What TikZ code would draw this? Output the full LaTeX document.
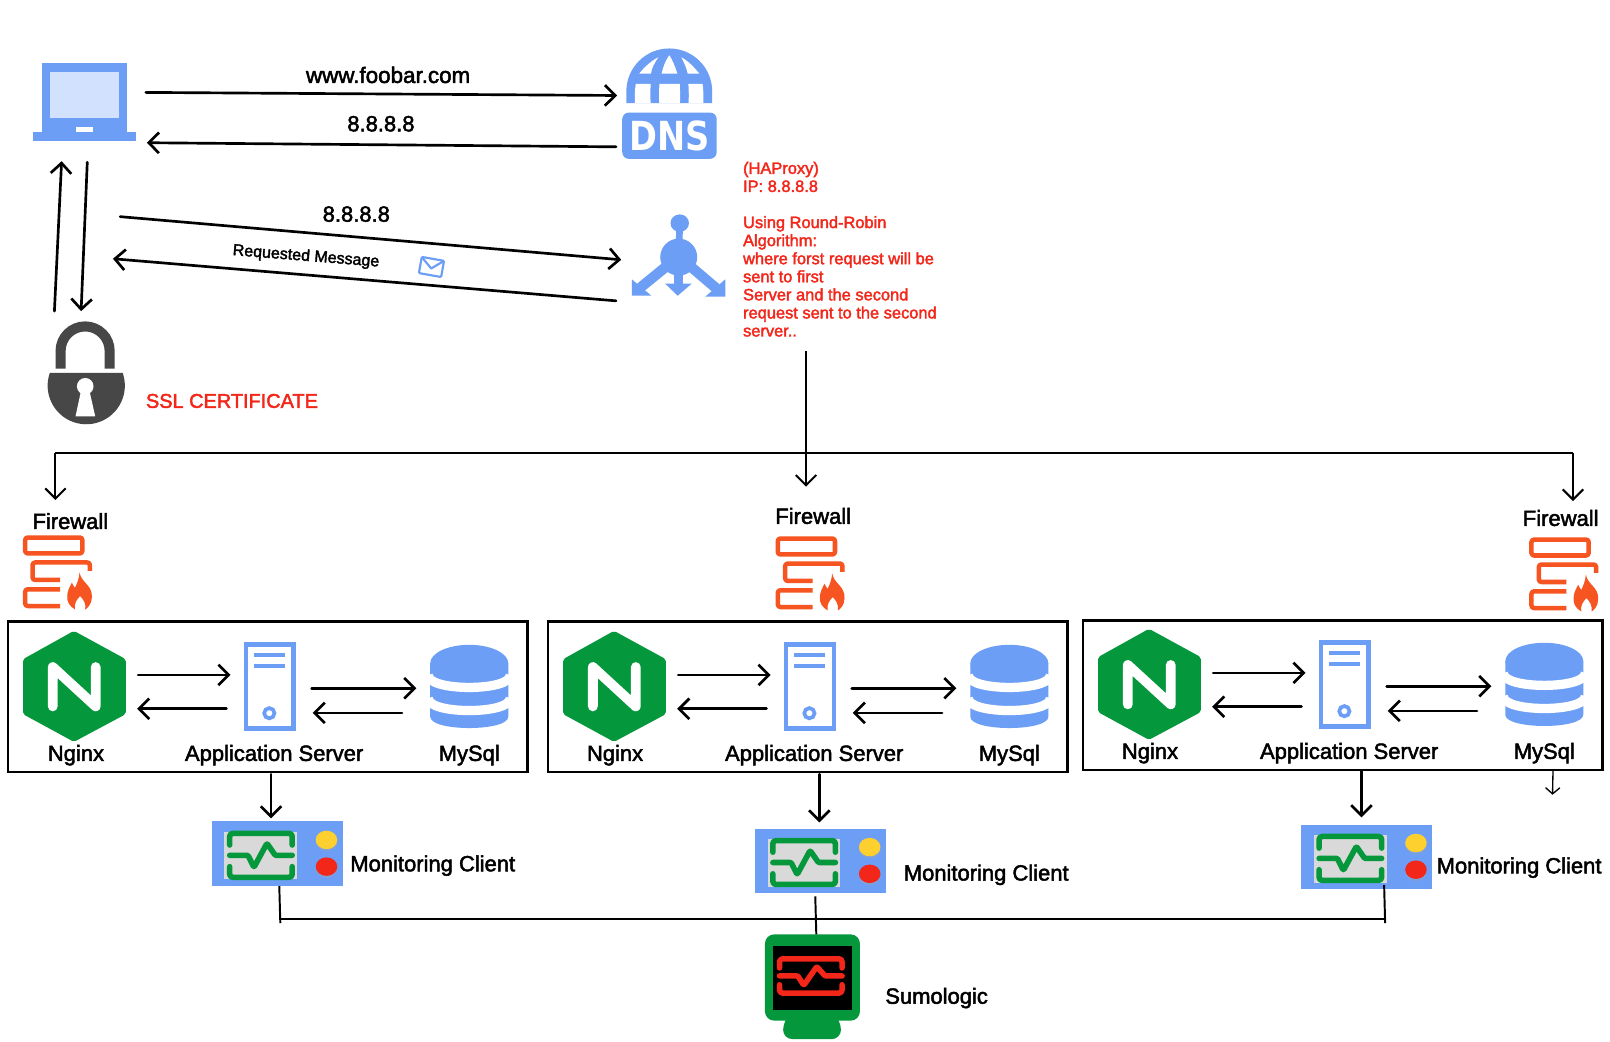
\documentclass[tikz,border=0pt]{standalone}
\usepackage{fontspec}
\setmainfont{Liberation Sans}[FakeBold=2.2]
\newfontfamily\dnsfont{DejaVu Sans Bold}
\usetikzlibrary{arrows.meta,calc}
\definecolor{iconblue}{HTML}{6D9EF6}
\definecolor{paleblue}{HTML}{D2E1FD}
\definecolor{nginxgreen}{HTML}{05973C}
\definecolor{fireorange}{HTML}{F65420}
\definecolor{alertred}{HTML}{F3261A}
\definecolor{alertyellow}{HTML}{FDD02F}
\definecolor{lockgrey}{HTML}{474747}
\definecolor{screengrey}{HTML}{D9D9D9}
\tikzset{
  x=1pt,y=-1pt,
  flow/.style={draw=black,line width=2.6pt,-{Straight Barb[length=10pt,width=20pt,line width=2.6pt]},line cap=round},
  flowthin/.style={draw=black,line width=2pt,-{Straight Barb[length=10pt,width=20pt,line width=2pt]}},
  flowtiny/.style={draw=black,line width=1.3pt,-{Straight Barb[length=6pt,width=14pt,line width=1.3pt]}},
  wire/.style={draw=black,line width=1.9pt},
  stackbox/.style={draw=black,line width=2.4pt},
  lbl/.style={inner sep=0pt,font=\fontsize{21.4}{24}\selectfont,text=black},
  lblleft/.style={lbl,anchor=west},
  pulseline/.style={line width=5.4pt,line cap=round,line join=round,rounded corners=3pt},
  fireline/.style={draw=fireorange,line width=4.4pt,line join=round,rounded corners=2.5pt},
}
\newcommand{\firewallicon}[2]{%
\begin{scope}[shift={(#1-23,#2-522)}]
  \draw[fireline] (24.5,524) rectangle (80.2,539.5);
  \draw[fireline] (87.5,556.5) -- (87.5,548.3) -- (31.7,548.3) -- (31.7,565.3) -- (58.5,565.3);
  \draw[fireline] (58.5,574.4) -- (24.5,574.4) -- (24.5,590.7) -- (58.5,590.7);
  \fill[fireorange] (77.5,558) .. controls (79,568) and (90,570) .. (89.5,582)
    .. controls (89.5,589) and (85,593) .. (83,594)
    .. controls (84,588) and (81,584) .. (78,581)
    .. controls (75,584) and (72,588) .. (73,594)
    .. controls (68,591) and (65,587) .. (65.5,581)
    .. controls (65.5,576) and (68,572) .. (70,568)
    .. controls (71,570) and (72,572) .. (73,573)
    .. controls (75,569) and (77,564) .. (77.5,558) -- cycle;
\end{scope}}
\newcommand{\trioicons}[2]{%
\begin{scope}[shift={(#1,#2)}]
  \fill[nginxgreen,rounded corners=2pt] (72,614.4) -- (122.5,642) -- (122.5,695.5) -- (72,722.5) -- (22.4,695.5) -- (22.4,642) -- cycle;
  \draw[white,line width=9.5pt,line cap=round,line join=round] (51.4,688) -- (51.4,649.6) -- (93.2,688) -- (93.2,649.6);
  \draw[iconblue,line width=4.4pt,fill=white] (239.5,627.5) rectangle (286,709.5);
  \fill[iconblue] (247.5,636.2) rectangle (277.5,640);
  \fill[iconblue] (247.5,647) rectangle (277.5,651);
  \draw[iconblue,line width=3.6pt] (262.3,694.6) circle [radius=5];
  \fill[iconblue] (419,646) -- (419,698) .. controls (419,712.7) and (495,712.7) .. (495,698) -- (495,646) -- cycle;
  \draw[white,line width=9pt] (417,657.5) .. controls (417,673.5) and (497,673.5) .. (497,657.5);
  \draw[white,line width=9pt] (417,680) .. controls (417,696) and (497,696) .. (497,680);
  \fill[iconblue] (457,646) ellipse [x radius=38,y radius=18];
\end{scope}}
\newcommand{\pulseglyph}[5]{%
\begin{scope}[shift={(#1,#2)},xscale=#4,yscale=#5]
  \draw[pulseline,#3] (16,40) -- (16,5) -- (204,5) -- (204,40);
  \draw[pulseline,#3] (16,105) -- (16,137) -- (204,137) -- (204,105);
  \draw[pulseline,#3,rounded corners=1pt] (16,71) -- (71,71) -- (89,107) -- (128,35) -- (153,71) -- (204,71);
\end{scope}}
\newcommand{\clientpanel}[2]{%
\begin{scope}[shift={(#1,#2)}]
  \fill[iconblue] (0,0) rectangle (128,63);
  \fill[screengrey] (12.5,10) rectangle (83.5,56.5);
  \pulseglyph{12.5}{10}{nginxgreen}{.324}{.324}
  \fill[black!35,opacity=.35] (112,20) ellipse [x radius=10.5,y radius=9];
  \fill[alertyellow] (112,18) ellipse [x radius=10.5,y radius=9];
  \fill[black!35,opacity=.35] (112,46) ellipse [x radius=10.5,y radius=9];
  \fill[alertred] (112,44) ellipse [x radius=10.5,y radius=9];
\end{scope}}
\begin{document}
\begin{tikzpicture}
\useasboundingbox (0,0) rectangle (1568,1014.8);
\fill[white] (0,0) rectangle (1568,1014.8);

% ---- laptop
\fill[iconblue] (40.5,61) rectangle (124,128.5);
\fill[paleblue] (48.6,69.7) rectangle (115.8,115);
\fill[iconblue] (32,128.4) rectangle (132.3,137.5);
\fill[white] (74,124) rectangle (90.5,128.8);

% ---- DNS globe
\fill[iconblue] (610,100.5) -- (610,89) arc [start angle=180,end angle=360,radius=41.8] -- (693.6,100.5) -- cycle;
\begin{scope}[white,xshift=.7pt]
  \fill (622,71.6) .. controls (627,65) and (634,59) .. (640.4,55.8) .. controls (637,61) and (634,66) .. (633.3,71.6) -- cycle;
  \fill (643.7,71.6) .. controls (645,65) and (648,58) .. (651.1,53.8) .. controls (654,58) and (657,65) .. (658.9,71.6) -- cycle;
  \fill (662.8,55.8) .. controls (669,59) and (675,65) .. (680.3,71.6) -- (669,71.6) .. controls (668,66) and (665.5,61) .. (662.8,55.8) -- cycle;
  \fill (617.7,100.5) .. controls (617.2,93) and (617.7,87) .. (618.5,81.7) -- (633,81.7) .. controls (632.6,88) and (632.6,95) .. (633,100.5) -- cycle;
  \fill (641.4,100.5) .. controls (641,95) and (641,88) .. (641.6,81.7) -- (661.3,81.7) .. controls (661.7,88) and (661.7,95) .. (661.5,100.5) -- cycle;
  \fill (669.9,100.5) .. controls (670.2,95) and (670.2,88) .. (669.7,81.7) -- (683.5,81.7) .. controls (684.4,87) and (684.5,93) .. (684.2,100.5) -- cycle;
\end{scope}
\fill[iconblue,rounded corners=6.5pt] (606,109.6) rectangle (698,154.7);
\node[name=dnslabel,inner sep=0pt,text=white] at (652,132.3) {\scalebox{.84}[1]{\dnsfont\fontsize{39}{39}\selectfont DNS}};

% ---- load balancer
\begin{scope}[xshift=.8pt]
\draw[iconblue,line width=6.5pt] (661.2,217.3) -- (660.2,250.4);
\fill[iconblue] (661.2,217.3) ellipse [x radius=9,y radius=8.5];
\fill[iconblue] (660.2,250.4) circle [radius=18];
\draw[iconblue,line width=10pt] (650,258) -- (623,280);
\draw[iconblue,line width=10pt] (670,258) -- (697,281);
\draw[iconblue,line width=9pt] (659.7,260) -- (659.7,278);
\fill[iconblue] (614.5,288) -- (633.6,288) -- (614.5,272) -- cycle;
\fill[iconblue] (705.6,289) -- (686,289) -- (705.6,272) -- cycle;
\fill[iconblue] (647,276.3) -- (672.8,276.3) -- (659.2,288) -- cycle;
\end{scope}

% ---- lock
\draw[lockgrey,line width=9.8pt] (59,359) -- (59,341.8) arc [start angle=180,end angle=360,radius=23.9] -- (106.8,359);
\fill[lockgrey] (48.5,363.2) arc [start angle=199.25,delta angle=-218.5,radius=37.6] -- cycle;
\fill[white] (83,376.2) circle [radius=8.1];
\fill[white] (78.8,381) -- (87.2,381) -- (92.7,405.4) -- (73.6,405.4) -- cycle;

% ---- envelope
\begin{scope}[shift={(420.2,260)},rotate=-10]
  \draw[iconblue,line width=2.1pt,rounded corners=1pt,line join=round] (-11,-8) rectangle (11,8);
  \draw[iconblue,line width=2.1pt,line join=round] (-10.5,-7.5) -- (0,1.5) -- (10.5,-7.5);
\end{scope}

% ---- texts of the top part
\node[lbl,name=tfoobar,font=\fontsize{21.8}{24}\selectfont] at (378,73) {www.foobar.com};
\node[lbl,name=tdnsip] at (371,120.5) {8.8.8.8};
\node[lbl,name=tlbip] at (347,208.5) {8.8.8.8};
\node[lbl,name=treq,rotate=-4.5,font=\fontsize{15.6}{18}\selectfont] at (298,250) {Requested Message};
\node[lblleft,name=tssl,text=alertred,font=\fontsize{19.4}{24}\selectfont] at (142,390.5) {SSL CERTIFICATE};
\node[name=thaproxy,anchor=north west,inner sep=0pt,align=left,text=alertred,font=\fontsize{16}{17.6}\selectfont] at (723.5,157.5)
  {(HAProxy)\\IP: 8.8.8.8\\ \strut\\Using Round-Robin\\Algorithm:\\where forst request will be\\sent to first\\Server and the second\\request sent to the second\\server..};

% ---- firewalls
\node[lbl,name=tfw1] at (68.5,507.5) {Firewall};
\node[lbl,name=tfw2] at (792,502.5) {Firewall};
\node[lbl,name=tfw3] at (1520,504.5) {Firewall};
\firewallicon{23}{521.5}
\firewallicon{756}{522.5}
\firewallicon{1490}{523.5}

% ---- server groups
\node[stackbox,name=group1,anchor=north west,minimum width=506pt,minimum height=146.5pt,inner sep=0pt] at (6.5,604) {};
\node[stackbox,name=group2,anchor=north west,minimum width=506pt,minimum height=146.5pt,inner sep=0pt] at (532.5,604) {};
\node[stackbox,name=group3,anchor=north west,minimum width=506pt,minimum height=145.5pt,inner sep=0pt] at (1053.5,603) {};
\trioicons{0}{0}
\trioicons{526}{0}
\trioicons{1047}{-2}
\node[lbl,name=tn1] at (74,735.5) {Nginx};
\node[lbl,name=ta1] at (267,735.5) {Application Server};
\node[lbl,name=tm1] at (457,735.5) {MySql};
\node[lbl,name=tn2] at (599,735.5) {Nginx};
\node[lbl,name=ta2] at (793,735.5) {Application Server};
\node[lbl,name=tm2] at (983,735.5) {MySql};
\node[lbl,name=tn3] at (1120,733.5) {Nginx};
\node[lbl,name=ta3] at (1314,733.5) {Application Server};
\node[lbl,name=tm3] at (1504,733.5) {MySql};

% ---- monitoring clients
\clientpanel{206}{800}
\clientpanel{735}{807}
\clientpanel{1267}{803}
\node[lblleft,name=tc1] at (341,843) {Monitoring Client};
\node[lblleft,name=tc2] at (880,852) {Monitoring Client};
\node[lblleft,name=tc3] at (1399,845) {Monitoring Client};

% ---- sumologic
\fill[nginxgreen,rounded corners=9pt] (762.7,1012) -- (762.7,994) -- (772,985) -- (810,985) -- (819,994) -- (819,1012) -- cycle;
\fill[nginxgreen,rounded corners=9pt] (745,910) rectangle (837.5,994);
\fill[black] (753,921) rectangle (829.5,983.5);
\pulseglyph{754}{932.5}{alertred}{.324}{.253}
\node[lblleft,name=tsumo] at (862,972) {Sumologic};

% ---- connector ends
\coordinate (c1a) at (142,90);   \coordinate (c1b) at (601,93);
\coordinate (c2a) at (600,143);  \coordinate (c2b) at (143,139);
\coordinate (c3a) at (53,303);   \coordinate (c3b) at (60,157);
\coordinate (c4a) at (85,158);   \coordinate (c4b) at (79,303);
\coordinate (c5a) at (117,211);  \coordinate (c5b) at (605,253);
\coordinate (c6a) at (600,293);  \coordinate (c6b) at (110,252);
\coordinate (busl) at (54,441);  \coordinate (busr) at (1532,441);
\coordinate (downc) at (785,342);\coordinate (downe) at (785,474);
\coordinate (fw1) at (54,487);   \coordinate (fw3) at (1532,488);
\coordinate (mon1a) at (264,754);\coordinate (mon1b) at (264,797);
\coordinate (mon2a) at (798,754);\coordinate (mon2b) at (798,801);
\coordinate (mon3a) at (1326,751);\coordinate (mon3b) at (1326,796);
\coordinate (tiny1) at (1512.5,750);\coordinate (tiny2) at (1512,774);
\coordinate (sbl) at (273,895);  \coordinate (sbr) at (1349,895);
\coordinate (s1a) at (272,863);  \coordinate (s1b) at (273,899);
\coordinate (s2a) at (794,873);  \coordinate (s2b) at (795,910);
\coordinate (s3a) at (1348,862); \coordinate (s3b) at (1349,899);

\draw[flow] (c1a) -- (c1b);
\draw[flow] (c2a) -- (c2b);
\draw[flow] (c3a) -- (c3b);
\draw[flow] (c4a) -- (c4b);
\draw[flow] (c5a) -- (c5b);
\draw[flow] (c6a) -- (c6b);
\draw[wire] (busl) -- (busr);
\draw[flowthin] (downc) -- (downe);
\draw[flowthin] (busl) -- (fw1);
\draw[flowthin] (busr) -- (fw3);
\foreach \dx/\dy in {0/0,526/0,1047/-2}{
  \begin{scope}[shift={(\dx,\dy)}]
    \coordinate (p1) at (134.5,657.3); \coordinate (p2) at (224.5,657.3);
    \coordinate (p3) at (220.5,690.3); \coordinate (p4) at (133.5,690.3);
    \coordinate (p5) at (303.5,670.3); \coordinate (p6) at (405.5,670.3);
    \coordinate (p7) at (391.5,694.3); \coordinate (p8) at (304.5,694.3);
    \draw[flow] (p1) -- (p2);
    \draw[flow] (p3) -- (p4);
    \draw[flow] (p5) -- (p6);
    \draw[flow] (p7) -- (p8);
  \end{scope}
}
\draw[flow] (mon1a) -- (mon1b);
\draw[flow] (mon2a) -- (mon2b);
\draw[flow] (mon3a) -- (mon3b);
\draw[flowtiny] (tiny1) -- (tiny2);
\draw[wire] (sbl) -- (sbr);
\draw[wire] (s1a) -- (s1b);
\draw[wire] (s2a) -- (s2b);
\draw[wire] (s3a) -- (s3b);
\end{tikzpicture}
\end{document}
